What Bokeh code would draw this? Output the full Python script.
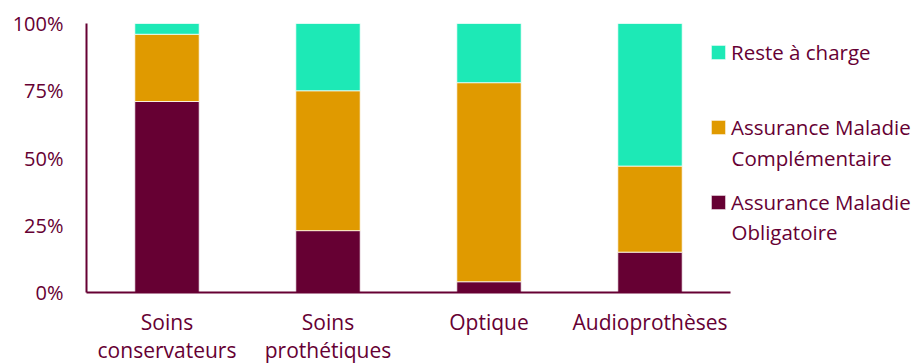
from bokeh.plotting import figure
from bokeh.models import (ColumnDataSource, Range1d, FixedTicker,
                          NumeralTickFormatter, Legend, LegendItem, Label)
from bokeh.embed import file_html
from bokeh.resources import INLINE

# Share of each care category paid by each payer (%)
categories = ["Soins conservateurs", "Soins prothétiques", "Optique", "Audioprothèses"]
amo = [71, 23, 4, 15]   # Assurance Maladie Obligatoire
amc = [25, 52, 74, 32]  # Assurance Maladie Complémentaire
rac = [4, 25, 22, 53]   # Reste à charge

tick_labels = ["Soins\nconservateurs", "Soins\nprothétiques", "Optique", "Audioprothèses"]

TEXT = "#660033"
FONT = "Open Sans"
COLORS = ["#660033", "#E09A00", "#1DE9B6"]

# one slot per category, centred on i + 0.5
xpos = [i + 0.5 for i in range(len(categories))]
n_slots = len(categories)

source = ColumnDataSource(dict(
    x=xpos,
    cat=categories,
    amo=[v / 100 for v in amo],
    amc=[v / 100 for v in amc],
    rac=[v / 100 for v in rac],
))

W = 917
LEFT, TOP = 86, 23
FRAME_W, FRAME_H = W - LEFT, 269
SLOT_PX = 161  # horizontal room per category
x_end = FRAME_W / SLOT_PX

p = figure(
    x_range=Range1d(0, x_end),
    y_range=Range1d(0, 1),
    frame_width=FRAME_W, frame_height=FRAME_H,
    output_backend="svg", toolbar_location=None,
    min_border_left=LEFT, min_border_right=0,
    min_border_top=TOP, min_border_bottom=0,
)
p.outline_line_color = None
p.xgrid.visible = False
p.ygrid.visible = False

renderers = p.vbar_stack(
    ["amo", "amc", "rac"], x="x", width=0.4, source=source,
    fill_color=COLORS, line_color="white", line_width=0.75,
)

# Axes
p.yaxis.ticker = FixedTicker(ticks=[0, 0.25, 0.5, 0.75, 1])
p.yaxis.formatter = NumeralTickFormatter(format="0%")
p.xaxis.ticker = FixedTicker(ticks=xpos)
p.xaxis.major_label_overrides = dict(zip(xpos, tick_labels))
p.xaxis.bounds = (0, n_slots)
for ax in (p.xaxis[0], p.yaxis[0]):
    ax.axis_line_color = TEXT
    ax.axis_line_width = 2
    ax.major_tick_in = 0
    ax.major_tick_out = 0
    ax.minor_tick_in = 0
    ax.minor_tick_out = 0
    ax.major_label_text_color = TEXT
    ax.major_label_text_font = FONT
p.yaxis.major_label_text_font_size = "20px"
p.xaxis.major_label_text_font_size = "21px"
p.yaxis.major_label_standoff = 23
p.xaxis.major_label_standoff = 15
p.xaxis.major_label_text_line_height = 1.0

# Legend (first lines); second lines added as labels
legend = Legend(
    items=[
        LegendItem(label="Reste à charge", renderers=[renderers[2]]),
        LegendItem(label="Assurance Maladie", renderers=[renderers[1]]),
        LegendItem(label="Assurance Maladie", renderers=[renderers[0]]),
    ],
    location=(623, 76.5),
    padding=0, margin=0, spacing=47,
    label_height=27, glyph_height=18, glyph_width=18, label_standoff=4,
    border_line_color=None, background_fill_alpha=0,
    label_text_color=TEXT, label_text_font=FONT, label_text_font_size="20.5px",
)
p.add_layout(legend)

label_x = (731 - LEFT) / SLOT_PX
for txt, yv in (("Complémentaire", 0.5013), ("Obligatoire", 0.2265)):
    p.add_layout(Label(
        x=label_x, y=yv, text=txt, text_align="left", text_baseline="middle",
        text_color=TEXT, text_font=FONT, text_font_size="20.5px",
    ))

open("out.html", "w").write(file_html(p, INLINE))
